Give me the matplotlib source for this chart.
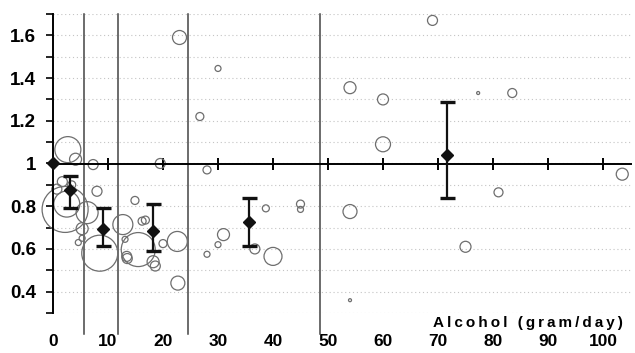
import matplotlib
matplotlib.use("Agg")
import matplotlib.pyplot as plt
from matplotlib.ticker import MultipleLocator, FuncFormatter

plt.rcParams['font.family'] = ['Liberation Sans', 'DejaVu Sans']
plt.rcParams['font.weight'] = 'bold'

# individual study estimates (relative risk) and their weight (circle radius, px)
study_x = [2.7, 4.1, 7.3, 19.5, 2.2, 2.5, 6.2, 8.0, 1.7, 0.7, 3.4, 8.5,
           12.7, 15.5, 13.5, 14.9, 16.2, 16.8, 18.2, 18.6, 20.0, 22.6, 22.7, 13.1,
           5.3, 5.3, 4.6, 13.4, 23.0, 26.7, 28.0, 30.0, 28.0, 30.0, 31.0, 36.7,
           38.7, 40.0, 45.0, 45.0, 54.0, 54.0, 54.0, 60.0, 60.0, 69.0, 77.3, 83.5,
           81.0, 75.0, 103.5]
study_y = [1.065, 1.02, 0.995, 1.0, 0.785, 0.81, 0.77, 0.87, 0.915, 0.88, 0.90, 0.58,
           0.714, 0.597, 0.555, 0.827, 0.73, 0.735, 0.54, 0.52, 0.625, 0.635, 0.44, 0.645,
           0.695, 0.65, 0.63, 0.565, 1.59, 1.22, 0.97, 1.445, 0.575, 0.62, 0.667, 0.60,
           0.79, 0.565, 0.81, 0.785, 1.355, 0.775, 0.36, 1.30, 1.09, 1.67, 1.33, 1.33,
           0.865, 0.61, 0.95]
study_weight = [13, 6, 5, 5, 23, 13, 11, 5, 5, 5, 4, 18,
                10, 17, 5, 4, 4, 4, 6, 5, 4, 10, 7, 3,
                6, 3, 3, 5, 7, 4, 4, 3, 3, 3, 6, 5,
                3.5, 9, 4, 3, 6, 7, 1.5, 5.5, 7.5, 5, 1.5, 4.5,
                4.5, 5.5, 6]

# pooled estimates per alcohol category
pooled_x = [0, 3.1, 9.1, 18.1, 35.6, 71.6]
pooled_rr = [1.0, 0.875, 0.695, 0.686, 0.724, 1.04]
pooled_lo = [1.0, 0.79, 0.616, 0.59, 0.616, 0.84]
pooled_hi = [1.0, 0.94, 0.79, 0.81, 0.84, 1.29]

# category boundaries (gram/day)
cut_points = [5.7, 11.8, 24.5, 48.5]

fig = plt.figure(figsize=(6.35, 3.53), dpi=100)
ax = fig.add_axes([53 / 635, 1 - 313 / 353, 577.5 / 635, 299 / 353])
ax.set_xlim(0, 105)
ax.set_ylim(0.3, 1.7)

# dotted horizontal grid
ax.yaxis.set_major_locator(MultipleLocator(0.2))
ax.yaxis.set_minor_locator(MultipleLocator(0.1))
ax.yaxis.set_major_formatter(FuncFormatter(lambda v, p: f"{v:g}"))
ax.grid(axis='y', which='both', linestyle=(0, (1, 2.5)), color='#c4c4c4', lw=0.8)
ax.set_axisbelow(True)

for c in cut_points:
    ax.plot([c, c], [0.2, 1.7], color='#444444', lw=1.1, clip_on=False, zorder=1)

sizes = [(2 * w * 0.72) ** 2 for w in study_weight]
ax.scatter(study_x, study_y, s=sizes, facecolors='none', edgecolors='#6e6e6e',
           linewidths=0.9, zorder=2, clip_on=False)

err_lo = [r - l for r, l in zip(pooled_rr, pooled_lo)]
err_hi = [h - r for r, h in zip(pooled_rr, pooled_hi)]
ax.errorbar(pooled_x[1:], pooled_rr[1:], yerr=[err_lo[1:], err_hi[1:]], fmt='none',
            ecolor='#111111', elinewidth=1.6, capsize=5.4, capthick=2.4, zorder=3)
ax.plot(pooled_x, pooled_rr, 'D', color='#111111', ms=6.5, zorder=4, clip_on=False)

# axes styling: x axis line at RR = 1
for s in ['top', 'right']:
    ax.spines[s].set_visible(False)
ax.spines['bottom'].set_position(('data', 1.0))
ax.spines['bottom'].set_linewidth(1.4)
ax.spines['left'].set_linewidth(1.4)
ax.set_xticks(range(0, 101, 10))
ax.tick_params(axis='x', direction='inout', length=9, width=1.4, labelbottom=False)
ax.tick_params(axis='y', which='both', direction='out', length=5, width=1.2,
               labelsize=13.5, pad=7)

sec = ax.secondary_xaxis(0.0)
sec.set_xticks(range(0, 101, 10))
sec.spines['bottom'].set_visible(False)
sec.tick_params(length=0, pad=15, labelsize=12.5)

ax.text(103.6, 0.255, "\u2009".join("Alcohol (gram/day)"), ha='right', va='center',
        fontsize=11, fontweight='bold', clip_on=False)

fig.savefig("out.png", dpi=100)
